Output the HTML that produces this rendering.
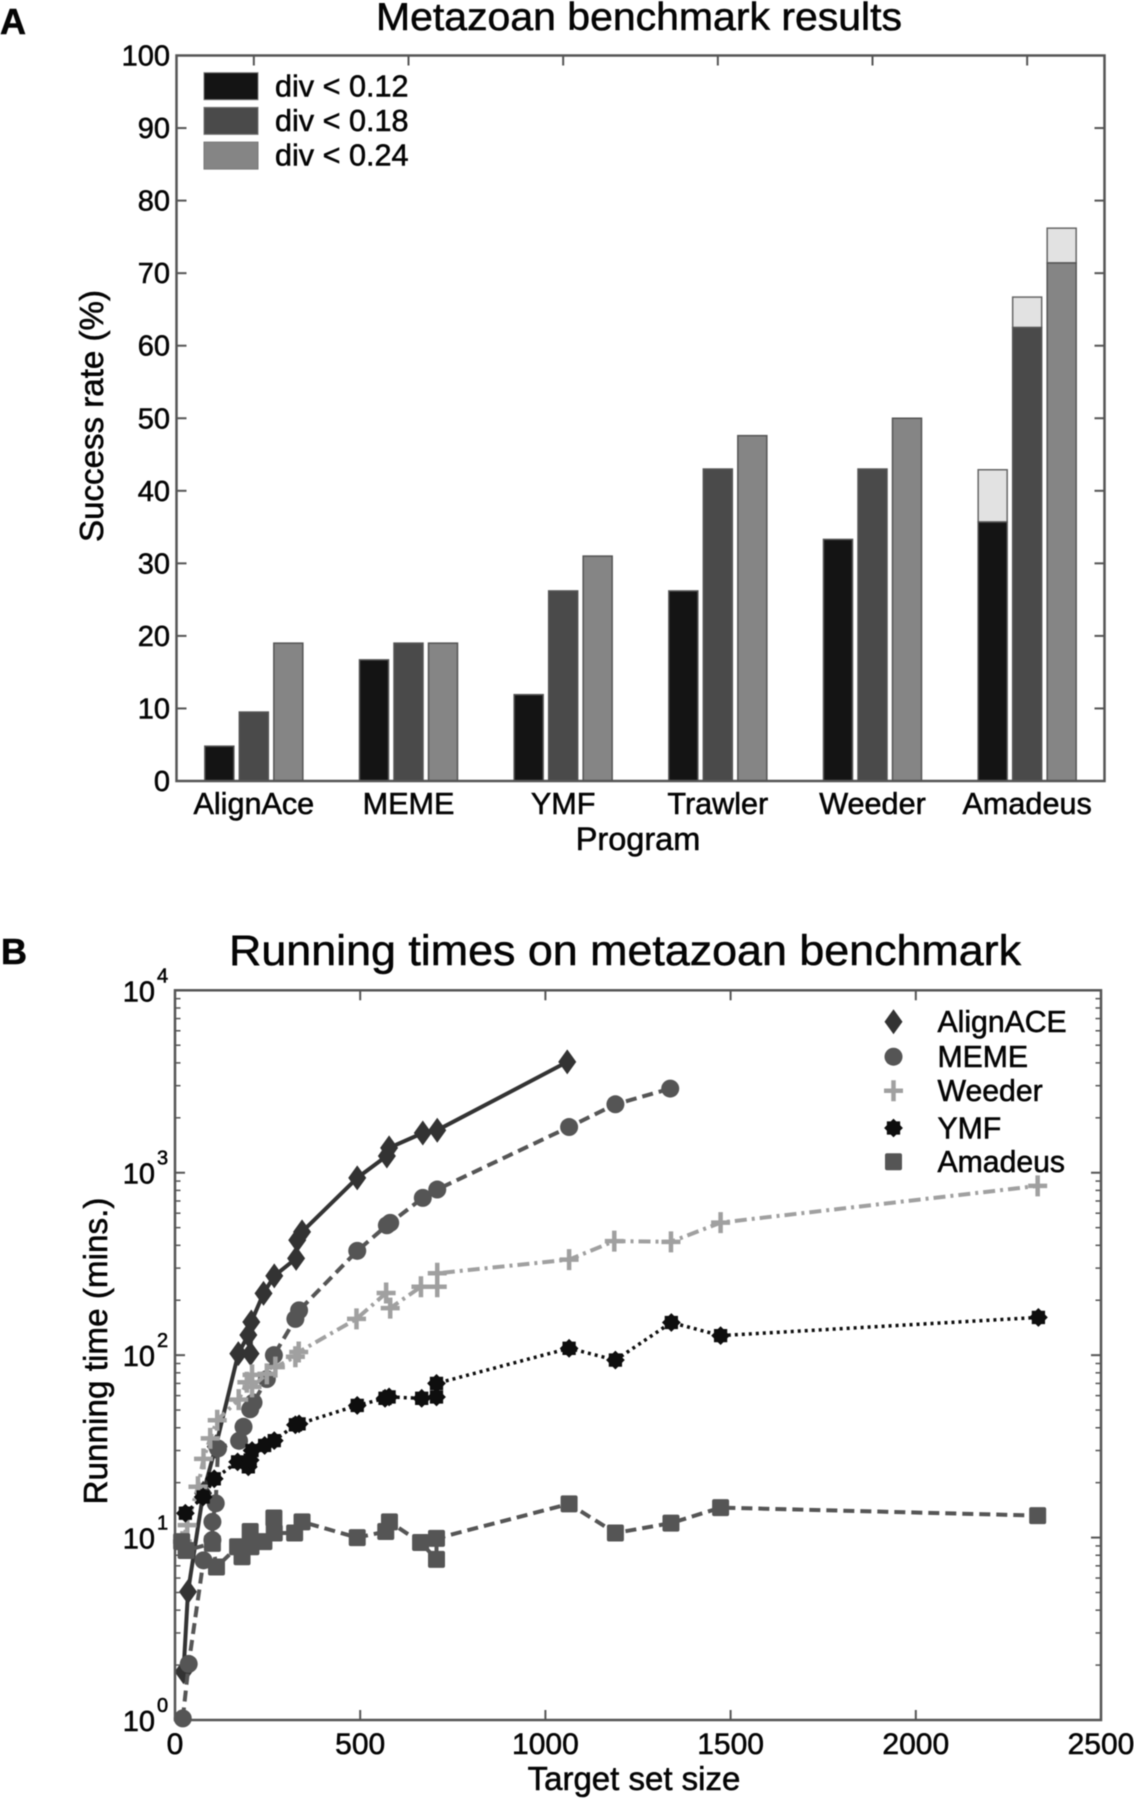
<!DOCTYPE html>
<html lang="en">
<head>
<meta charset="utf-8">
<title>Metazoan benchmark figure</title>
<style>
html,body{margin:0;padding:0;background:#fff;}
#figure{display:block;width:1134px;height:1800px;filter:blur(0.6px);}
text{font-family:"Liberation Sans",sans-serif;fill:#050505;stroke:#050505;stroke-width:0.55px;}
</style>
</head>
<body>
<svg id="figure" xmlns="http://www.w3.org/2000/svg" width="1134" height="1800" viewBox="0 0 1134 1800">
  <rect width="1134" height="1800" fill="#fff"/>
  <text x="0" y="34" font-size="36" font-weight="bold">A</text>
  <text x="1" y="964" font-size="36" font-weight="bold">B</text>
  <text x="639" y="30" font-size="39" text-anchor="middle" textLength="526" lengthAdjust="spacingAndGlyphs">Metazoan benchmark results</text>
  <text x="625" y="965" font-size="43" text-anchor="middle" textLength="792" lengthAdjust="spacingAndGlyphs">Running times on metazoan benchmark</text>
  <text transform="translate(103,416) rotate(-90)" font-size="33" text-anchor="middle" textLength="252" lengthAdjust="spacingAndGlyphs">Success rate (%)</text>
  <text x="638" y="850" font-size="32.5" text-anchor="middle">Program</text>
  <text transform="translate(107,1351) rotate(-90)" font-size="33" text-anchor="middle" textLength="307" lengthAdjust="spacingAndGlyphs">Running time (mins.)</text>
  <text x="634" y="1790" font-size="33" text-anchor="middle">Target set size</text>
  <g id="chart-a"></g>
  <g id="chart-b"></g>
</svg>
<script>
// Panel A data
const programs = ['AlignAce','MEME','YMF','Trawler','Weeder','Amadeus'];
const div012 = [4.8,16.7,11.9,26.2,33.3,35.7];
const div018 = [9.5,19,26.2,43,43,62.5];
const div024 = [19,19,31,47.6,50,71.4];
const extra012 = [0,0,0,0,0,42.9];
const extra018 = [0,0,0,0,0,66.7];
const extra024 = [0,0,0,0,0,76.2];
const barTicks = [0,10,20,30,40,50,60,70,80,90,100];
const divLabels = ['div < 0.12','div < 0.18','div < 0.24'];

// Panel B data
const alignX = [23,35,76,110,171,198,204,206,239,268,327,330,343,492,572,578,669,708,1059];
const alignY = [1.84,5.05,17.5,31.5,102,129,102,152,218,272,339,427,474,937,1236,1368,1652,1710,4050];
const memeX = [21,37,77,101,101,110,116,173,185,203,212,248,267,325,335,492,572,581,669,708,1064,1189,1337];
const memeY = [1.02,2.03,7.5,9.7,12.2,15.4,30.8,33.9,40.5,50.5,55,74,100,158,176,373,515,531,728,809,1780,2373,2892];
const weederX = [20,33,62,77,95,114,172,194,208,208,248,271,325,334,490,570,581,664,708,708,1064,1186,1339,1473,2329];
const weederY = [9.5,11.7,19,27,35,44,57,71,78,67,79,86,98,104,158,219,181,237,237,281,334,422,418,533,847];
const ymfX = [28,76,106,169,198,203,208,242,268,325,335,492,567,578,666,706,706,1064,1189,1340,1473,2331];
const ymfY = [13.6,16.7,21,26,24.4,26.6,30,32,34,41.5,42,53,58,59,58,59,70,109,94,151,128,161];
const amadeusX = [18,30,101,112,169,181,203,205,240,267,268,323,343,492,569,579,663,706,706,1064,1189,1339,1473,2329];
const amadeusY = [9.5,8.5,9.3,6.9,8.9,7.85,10.8,8.9,9.5,12.8,10.6,10.6,12.2,10,10.8,12.2,9.4,7.6,9.9,15.3,10.6,12,14.6,13.2];
const sizeTicks = [0,500,1000,1500,2000,2500];
const decadeExponents = [0,1,2,3,4];
const minorFactors = [2,3,4,5,6,7,8,9];
const seriesNames = ['AlignACE','MEME','Weeder','YMF','Amadeus'];

const NS = 'http://www.w3.org/2000/svg';
function make(parent, tag, attrs, txt) {
  const el = document.createElementNS(NS, tag);
  for (const k in attrs) el.setAttribute(k, attrs[k]);
  if (txt !== undefined) el.textContent = txt;
  parent.appendChild(el);
  return el;
}
function slug(s) {
  return String(s).toLowerCase().replace(/[^a-z0-9]+/g, '-').replace(/^-|-$/g, '');
}

/* ---------- Panel A ---------- */
const A = {l:176.5, r:1104.5, t:55.5, b:781};
const ax = i => A.l + (i + 0.5) / 6 * (A.r - A.l);
const ay = v => A.b - v / 100 * (A.b - A.t);
const gA = document.getElementById('chart-a');
const barFills = ['#141414','#4a4a4a','#858585'];
const barOffset = 34.5, barWidth = 29;
const barSeries = [div012, div018, div024];
const extraSeries = [extra012, extra018, extra024];

programs.forEach((name, i) => {
  barSeries.forEach((vals, s) => {
    const cx = ax(i) + (s - 1) * barOffset;
    if (extraSeries[s][i] > vals[i]) {
      const ex = make(gA, 'rect', {x:cx - barWidth/2, y:ay(extraSeries[s][i]), width:barWidth, height:ay(vals[i]) - ay(extraSeries[s][i]), fill:'#e2e2e2', stroke:'#666', 'stroke-width':1.5});
      
      
    }
    const bar = make(gA, 'rect', {x:cx - barWidth/2, y:ay(vals[i]), width:barWidth, height:ay(0) - ay(vals[i]), fill:barFills[s], stroke:'#555', 'stroke-width':1.5});
    
    
  });
  const tickTop = make(gA, 'line', {x1:ax(i), x2:ax(i), y1:A.t, y2:A.t + 10, stroke:'#555', 'stroke-width':2});
  
  
  const lab = make(gA, 'text', {x:ax(i), y:814, 'font-size':30.6, 'text-anchor':'middle'}, name);
  
  
});

barTicks.forEach(v => {
  const t1 = make(gA, 'line', {x1:A.l, x2:A.l + 10, y1:ay(v), y2:ay(v), stroke:'#555', 'stroke-width':2});
  
  
  const t2 = make(gA, 'line', {x1:A.r - 10, x2:A.r, y1:ay(v), y2:ay(v), stroke:'#555', 'stroke-width':2});
  
  
  const lab = make(gA, 'text', {x:170, y:ay(v) + 10, 'font-size':29, 'text-anchor':'end'}, v);
  
  
});
const frameA = make(gA, 'rect', {x:A.l, y:A.t, width:A.r - A.l, height:A.b - A.t, fill:'none', stroke:'#555', 'stroke-width':2.5});



divLabels.forEach((txt, i) => {
  const sw = make(gA, 'rect', {x:204, y:72.7 + i * 34.7, width:54, height:27, fill:barFills[i], stroke:'#777', 'stroke-width':1});
  
  
  const lb = make(gA, 'text', {x:275, y:96.7 + i * 34.3, 'font-size':30.6}, txt);
  
  
});

/* ---------- Panel B ---------- */
const B = {l:175, r:1101, t:990.3, b:1720};
const bx = v => B.l + v / 2500 * (B.r - B.l);
const by = v => B.b - Math.log10(v) / 4 * (B.b - B.t);
const gB = document.getElementById('chart-b');

function marker(parent, kind, x, y, color) {
  if (kind === 'diamond') {
    return make(parent, 'polygon', {points:[[x,y-12.5],[x+9,y],[x,y+12.5],[x-9,y]].join(' '), fill:color});
  }
  if (kind === 'circle') {
    return make(parent, 'circle', {cx:x, cy:y, r:9, fill:color});
  }
  if (kind === 'plus') {
    return make(parent, 'path', {d:'M' + (x-9.5) + ' ' + y + 'H' + (x+9.5) + 'M' + x + ' ' + (y-10.5) + 'V' + (y+10.5), stroke:color, 'stroke-width':4.5, fill:'none'});
  }
  if (kind === 'star') {
    const pts = [];
    for (let k = 0; k < 16; k++) {
      const r = k % 2 ? 7.2 : 9.4;
      const a = k * Math.PI / 8;
      pts.push([x + r * Math.sin(a), y + r * Math.cos(a)]);
    }
    return make(parent, 'polygon', {points:pts.join(' '), fill:color});
  }
  return make(parent, 'rect', {x:x - 8.5, y:y - 8.5, width:17, height:17, rx:2, fill:color});
}

const seriesX = [alignX, memeX, weederX, ymfX, amadeusX];
const seriesY = [alignY, memeY, weederY, ymfY, amadeusY];
const seriesColor = ['#333333','#555555','#a0a0a0','#0e0e0e','#555555'];
const seriesKind = ['diamond','circle','plus','star','square'];
const seriesDash = ['none','11 6','12 5 3 5','3 4','11 6'];
const seriesWidth = [4,4,4,3.5,4];

seriesNames.forEach((name, s) => {
  const group = make(gB, 'g', {});
  
  
  const pts = seriesX[s].map((xv, i) => bx(xv).toFixed(1) + ',' + by(seriesY[s][i]).toFixed(1)).join(' ');
  const line = make(group, 'polyline', {points:pts, fill:'none', stroke:seriesColor[s], 'stroke-width':seriesWidth[s], 'stroke-dasharray':seriesDash[s], 'stroke-linejoin':'round'});
  
  
  seriesX[s].forEach((xv, i) => {
    const m = marker(group, seriesKind[s], bx(xv), by(seriesY[s][i]), seriesColor[s]);
    
    
  });
  const ly = [1021.7,1056.7,1090.7,1128,1161.7][s];
  const lm = marker(gB, seriesKind[s], 893.5, ly, seriesColor[s]);
  
  
  const lt = make(gB, 'text', {x:937.5, y:ly + 10.5, 'font-size':30.2}, name);
  
  
});

sizeTicks.forEach(v => {
  const t1 = make(gB, 'line', {x1:bx(v), x2:bx(v), y1:B.t, y2:B.t + 10, stroke:'#555', 'stroke-width':2});
  
  
  const t2 = make(gB, 'line', {x1:bx(v), x2:bx(v), y1:B.b - 10, y2:B.b, stroke:'#555', 'stroke-width':2});
  
  
  const lab = make(gB, 'text', {x:bx(v), y:1754, 'font-size':30, 'text-anchor':'middle'}, v);
  
  
});

decadeExponents.forEach(e => {
  const v = Math.pow(10, e);
  const t1 = make(gB, 'line', {x1:B.l, x2:B.l + 10, y1:by(v), y2:by(v), stroke:'#555', 'stroke-width':2});
  
  
  const t2 = make(gB, 'line', {x1:B.r - 10, x2:B.r, y1:by(v), y2:by(v), stroke:'#555', 'stroke-width':2});
  
  
  const lab = make(gB, 'text', {x:155, y:by(v) + 11, 'font-size':29, 'text-anchor':'end'}, '10');
  
  
  const ex = make(gB, 'text', {x:157, y:by(v) - 8, 'font-size':20}, e);
  
  
  if (e < 4) {
    minorFactors.forEach(f => {
      const mv = v * f;
      const m1 = make(gB, 'line', {x1:B.l, x2:B.l + 5.5, y1:by(mv), y2:by(mv), stroke:'#555', 'stroke-width':1.5});
      
      
      const m2 = make(gB, 'line', {x1:B.r - 5.5, x2:B.r, y1:by(mv), y2:by(mv), stroke:'#555', 'stroke-width':1.5});
      
      
    });
  }
});
const frameB = make(gB, 'rect', {x:B.l, y:B.t, width:B.r - B.l, height:B.b - B.t, fill:'none', stroke:'#555', 'stroke-width':2.5});


</script>
</body>
</html>
